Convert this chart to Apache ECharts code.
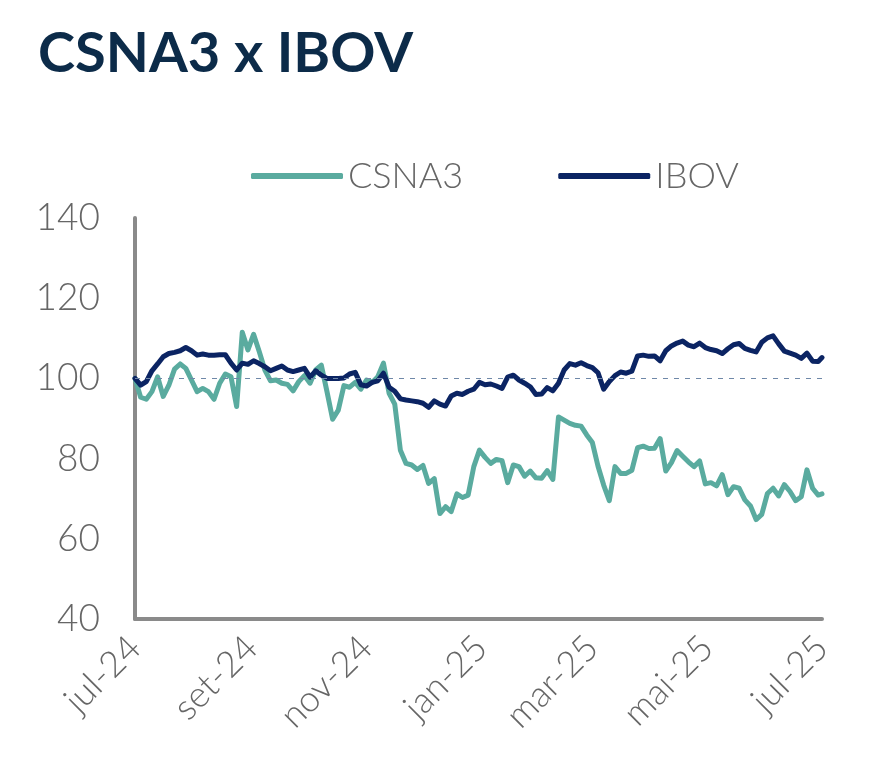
<!DOCTYPE html>
<html>
<head>
<meta charset="utf-8">
<script src="https://cdn.jsdelivr.net/npm/echarts@6/dist/echarts.min.js"></script>
<style>
  html, body { margin: 0; padding: 0; background: #ffffff; }
  #chart { width: 879px; height: 783px; }
</style>
</head>
<body>
<div id="chart"></div>
<script>
// ---- data ----
const dates = [
  '2024-07-01','2024-07-04','2024-07-07','2024-07-10','2024-07-13','2024-07-16','2024-07-19','2024-07-22','2024-07-25','2024-07-28',
  '2024-07-31','2024-08-03','2024-08-06','2024-08-09','2024-08-12','2024-08-15','2024-08-18','2024-08-21','2024-08-24','2024-08-27',
  '2024-08-30','2024-09-02','2024-09-05','2024-09-08','2024-09-11','2024-09-14','2024-09-17','2024-09-20','2024-09-23','2024-09-26',
  '2024-09-29','2024-10-02','2024-10-05','2024-10-08','2024-10-11','2024-10-14','2024-10-17','2024-10-20','2024-10-23','2024-10-26',
  '2024-10-29','2024-11-01','2024-11-04','2024-11-07','2024-11-10','2024-11-13','2024-11-16','2024-11-19','2024-11-22','2024-11-25',
  '2024-11-28','2024-12-01','2024-12-04','2024-12-07','2024-12-10','2024-12-13','2024-12-16','2024-12-19','2024-12-22','2024-12-25',
  '2024-12-28','2024-12-31','2025-01-03','2025-01-06','2025-01-09','2025-01-12','2025-01-15','2025-01-18','2025-01-21','2025-01-24',
  '2025-01-27','2025-01-30','2025-02-02','2025-02-05','2025-02-08','2025-02-11','2025-02-14','2025-02-17','2025-02-20','2025-02-23',
  '2025-02-26','2025-03-01','2025-03-04','2025-03-07','2025-03-10','2025-03-13','2025-03-16','2025-03-19','2025-03-22','2025-03-25',
  '2025-03-28','2025-03-31','2025-04-03','2025-04-06','2025-04-09','2025-04-12','2025-04-15','2025-04-18','2025-04-21','2025-04-24',
  '2025-04-27','2025-04-30','2025-05-03','2025-05-06','2025-05-09','2025-05-12','2025-05-15','2025-05-18','2025-05-21','2025-05-24',
  '2025-05-27','2025-05-30','2025-06-02','2025-06-05','2025-06-08','2025-06-11','2025-06-14','2025-06-17','2025-06-20','2025-06-23',
  '2025-06-26','2025-06-29','2025-07-01'
];

const csna3 = [
  100, 95.3, 94.8, 96.7, 100.4, 95.5, 98.3, 102.3, 103.6, 102.5,
  99.6, 96.7, 97.5, 96.7, 94.8, 98.8, 101.1, 100.4, 93.0, 111.5,
  107.1, 111.0, 106.7, 102.1, 99.4, 99.6, 98.8, 98.5, 96.9, 99.2,
  100.7, 98.8, 102.1, 103.3, 96.7, 89.8, 92.1, 98.2, 97.8, 99.0,
  97.3, 99.6, 99.0, 100.4, 103.8, 96.3, 93.6, 82.1, 78.8, 78.4,
  77.3, 78.3, 73.8, 75.0, 66.3, 68.0, 66.8, 71.2, 70.3, 70.9,
  78.0, 82.1, 80.3, 78.8, 79.8, 79.5, 74.0, 78.4, 78.0, 75.6,
  76.9, 75.2, 75.1, 77.0, 74.8, 90.4, 89.6, 88.8, 88.3, 88.1,
  85.9, 84.0, 78.1, 73.4, 69.5, 78.0, 76.3, 76.3, 77.1, 82.7,
  83.1, 82.5, 82.6, 85.0, 76.9, 79.0, 82.0, 80.6, 79.2, 78.0,
  79.4, 73.7, 74.0, 73.2, 76.0, 71.0, 73.0, 72.6, 69.7, 68.2,
  64.8, 66.1, 71.3, 72.6, 70.7, 73.5, 71.8, 69.5, 70.5, 77.2,
  72.6, 70.9, 71.2
];

const ibov = [
  100, 98.3, 99.2, 101.9, 103.6, 105.4, 106.2, 106.5, 106.9, 107.7,
  106.9, 105.8, 106.1, 105.8, 105.8, 105.9, 105.9, 103.8, 102.1, 103.8,
  103.5, 104.4, 103.7, 102.9, 101.9, 102.5, 103.1, 102.1, 101.7, 102.1,
  102.5, 100.3, 101.9, 100.8, 100.0, 100.0, 100.0, 100.1, 101.1, 101.5,
  98.4, 98.1, 99.0, 99.4, 101.3, 97.8, 96.8, 94.9, 94.6, 94.4,
  94.2, 93.8, 92.8, 94.4, 93.6, 93.1, 95.6, 96.3, 96.0, 96.8,
  97.3, 99.0, 98.4, 98.6, 98.1, 97.5, 100.3, 100.8, 99.6, 98.8,
  97.9, 96.0, 96.1, 97.7, 96.9, 98.8, 102.1, 103.7, 103.3, 103.9,
  103.2, 102.7, 101.4, 97.3, 99.2, 100.7, 101.6, 101.3, 101.8, 105.6,
  105.8, 105.5, 105.6, 104.4, 106.9, 108.1, 108.8, 109.3, 108.3, 107.9,
  108.8, 107.7, 107.2, 106.9, 106.2, 107.4, 108.4, 108.7, 107.5, 107.0,
  106.6, 109.0, 110.1, 110.6, 108.6, 106.8, 106.3, 105.8, 105.0, 106.3,
  104.3, 104.2, 105.2
];

const seriesNames = ['CSNA3', 'IBOV'];
const tickDates = ['2024-07-01','2024-09-01','2024-11-01','2025-01-01','2025-03-01','2025-05-01','2025-07-01'];
const tickLabels = ['jul-24','set-24','nov-24','jan-25','mar-25','mai-25','jul-25'];
const yMin = 40, yMax = 140, yStep = 20;
const baseline = 100;

// ---- build: x is measured in days since the first date ----
const DAY = 86400000;
function dayNo(s) { const p = s.split('-').map(Number); return Math.round(Date.UTC(p[0], p[1] - 1, p[2]) / DAY); }
const d0 = dayNo(tickDates[0]);
const xOf = s => dayNo(s) - d0;
const tickX = tickDates.map(xOf);
const pairs = vals => dates.map((d, i) => [xOf(d), vals[i]]);

const FONT = 'Lato, "Open Sans", sans-serif';
const chart = echarts.init(document.getElementById('chart'), null, { renderer: 'canvas' });
chart.setOption({
  animation: false,
  backgroundColor: '#ffffff',
  title: {
    text: 'CSNA3 x IBOV',
    left: 33, top: 21,
    textStyle: { fontFamily: FONT, fontSize: 56, fontWeight: 'bold', color: '#0c2b49' }
  },
  legend: {
    left: 246, top: 153,
    itemWidth: 92, itemHeight: 6, itemGap: 95,
    icon: 'roundRect',
    textStyle: { fontFamily: FONT, fontSize: 36, fontWeight: 300, color: '#666666' },
    data: seriesNames
  },
  grid: { left: 135, right: 57, top: 218, bottom: 164, containLabel: false },
  xAxis: {
    type: 'value',
    min: tickX[0],
    max: tickX[tickX.length - 1],
    axisLine: { show: true, onZero: false, lineStyle: { color: '#8a8a8a', width: 4 } },
    axisTick: { show: false },
    splitLine: { show: false },
    axisLabel: {
      customValues: tickX,
      rotate: 45,
      margin: 23,
      fontFamily: FONT, fontSize: 36, fontWeight: 300, color: '#666666',
      formatter: function (v) {
        let best = 0, bd = Infinity;
        tickX.forEach((t, i) => { const d = Math.abs(t - v); if (d < bd) { bd = d; best = i; } });
        return tickLabels[best];
      }
    }
  },
  yAxis: {
    type: 'value',
    min: yMin, max: yMax, interval: yStep,
    axisLine: { show: true, lineStyle: { color: '#8a8a8a', width: 4 } },
    axisTick: { show: false },
    splitLine: { show: false },
    axisLabel: { margin: 35, fontFamily: FONT, fontSize: 37, fontWeight: 300, color: '#666666' }
  },
  series: [
    {
      name: seriesNames[0], type: 'line', data: pairs(csna3),
      showSymbol: false, symbol: 'none',
      lineStyle: { width: 5, color: '#5aab9f', cap: 'round', join: 'round' },
      itemStyle: { color: '#5aab9f' },
      markLine: {
        silent: true, symbol: 'none', label: { show: false },
        lineStyle: { type: [5, 6], color: '#6f88a8', width: 1 },
        data: [{ yAxis: baseline }]
      },
      z: 2
    },
    {
      name: seriesNames[1], type: 'line', data: pairs(ibov),
      showSymbol: false, symbol: 'none',
      lineStyle: { width: 5, color: '#0b2463', cap: 'round', join: 'round' },
      itemStyle: { color: '#0b2463' },
      z: 3
    }
  ]
});
</script>
</body>
</html>
